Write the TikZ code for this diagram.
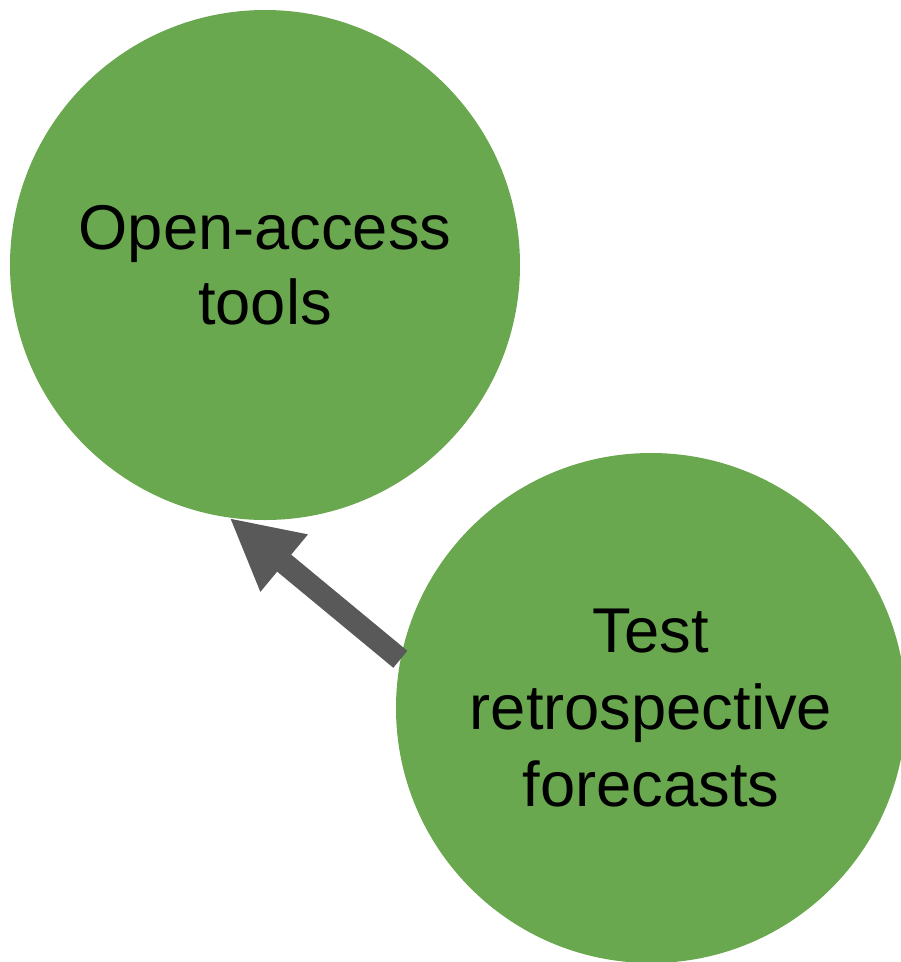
\documentclass[tikz,border=0pt]{standalone}
\usepackage{fontspec}
\setmainfont{Liberation Sans}
\usepackage{xcolor}
\usepackage{tikz}
\usetikzlibrary{arrows.meta,positioning}
\definecolor{stepgreen}{HTML}{6AA84F}
\definecolor{linkgray}{HTML}{595959}

\begin{document}
\begin{tikzpicture}[
  bubble/.style={circle, fill=stepgreen, draw=none, inner sep=0pt, minimum size=10.2cm, align=center, font=\fontsize{36}{43}\selectfont},
  edge/.style={-{Triangle[length=1.42cm, width=1.38cm]}, line width=0.44cm, linkgray},
]
  \useasboundingbox (0,0) rectangle (18.02,-19.24);

  \node[bubble] (tools) at (5.30,-5.30) {Open-access\\tools};
  \node[bubble, font=\fontsize{36}{44}\selectfont] (test) at (13.02,-14.16) {Test\\retrospective\\forecasts};

  \draw[edge] (test.169.9) -- (tools.262.6);
\end{tikzpicture}
\end{document}
